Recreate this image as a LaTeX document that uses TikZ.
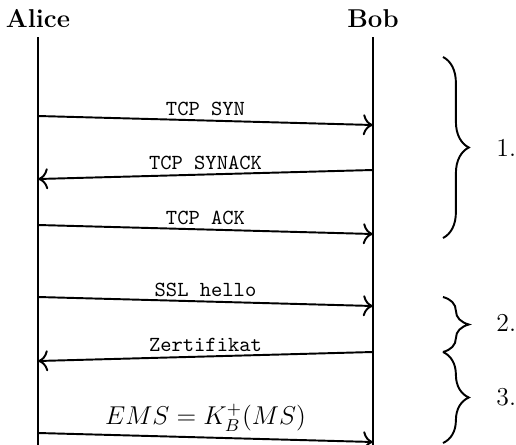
\documentclass[tikz,border=0pt]{standalone}
\usetikzlibrary{decorations.pathreplacing,arrows.meta}
\begin{document}
\begin{tikzpicture}[x=0.4651pt, y=-0.4651pt,
  party/.style={font=\large\bfseries, inner sep=0pt},
  lifeline/.style={line width=0.9pt},
  msg/.style={line width=0.9pt, -{To[scale=1.3]}},
  msglabel/.style={above, inner sep=1.6pt, font=\ttfamily},
  phase/.style={line width=0.9pt, decorate, decoration={brace, amplitude=12pt}},
  phaselabel/.style={anchor=west, inner sep=0pt, font=\large}]
  \useasboundingbox (0,0) rectangle (516,445);

  % participants
  \node[party] (alice) at (38,19) {Alice};
  \node[party] (bob) at (373,19) {Bob};

  % lifelines
  \coordinate (aTop) at (38,37);
  \coordinate (aBot) at (38,445);
  \coordinate (bTop) at (373,37);
  \coordinate (bBot) at (373,445);
  \draw[lifeline] (aTop) -- (aBot);
  \draw[lifeline] (bTop) -- (bBot);

  % message end points
  \coordinate (a1) at (38,116);  \coordinate (b1) at (373,125);
  \coordinate (b2) at (373,170); \coordinate (a2) at (38,179);
  \coordinate (a3) at (38,225);  \coordinate (b3) at (373,234);
  \coordinate (a4) at (38,297);  \coordinate (b4) at (373,306);
  \coordinate (b5) at (373,352); \coordinate (a5) at (38,361);
  \coordinate (a6) at (38,433);  \coordinate (b6) at (373,442);

  % messages
  \draw[msg] (a1) -- node[msglabel] {TCP SYN} (b1);
  \draw[msg] (b2) -- node[msglabel] {TCP SYNACK} (a2);
  \draw[msg] (a3) -- node[msglabel] {TCP ACK} (b3);
  \draw[msg] (a4) -- node[msglabel] {SSL hello} (b4);
  \draw[msg] (b5) -- node[msglabel] {Zertifikat} (a5);
  \draw[msg] (a6) -- node[msglabel, inner sep=2.4pt, font=\large] {$EMS = K_B^+(MS)$} (b6);

  % phase braces
  \coordinate (p1s) at (443,57);  \coordinate (p1e) at (443,238);
  \coordinate (p2s) at (443,297); \coordinate (p2e) at (443,352);
  \coordinate (p3e) at (443,443);
  \draw[phase] (p1s) -- (p1e);
  \draw[phase] (p2s) -- (p2e);
  \draw[phase] (p2e) -- (p3e);
  \node[phaselabel] (ph1) at (496,148) {1.};
  \node[phaselabel] (ph2) at (496,323) {2.};
  \node[phaselabel] (ph3) at (496,397) {3.};
\end{tikzpicture}
\end{document}
